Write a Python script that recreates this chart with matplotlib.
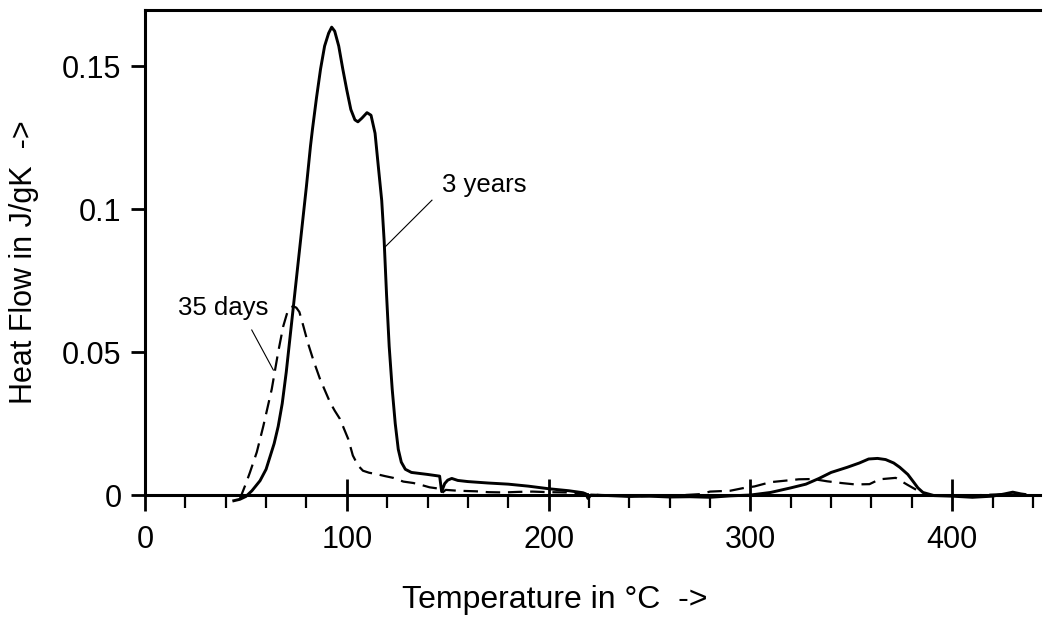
import matplotlib
matplotlib.use('Agg')
import matplotlib.pyplot as plt
from matplotlib.ticker import MultipleLocator, FixedLocator, FixedFormatter

plt.rcParams['font.family'] = ['Liberation Sans', 'DejaVu Sans']

# 3 years (solid)
temp_3y = [44, 47, 50, 53, 57, 60, 62, 64, 66, 68, 70, 72, 74, 76, 78, 80, 82, 83, 85, 87,
           89, 91, 92.5, 94, 96, 98, 100, 102, 104, 105.5, 107.5, 110, 112, 114, 115.6, 117.3,
           118.5, 119.7, 121, 122.5, 124, 125.5, 127, 129, 132, 140, 146, 147, 148.5, 150, 152,
           155, 160, 170, 180, 190, 200, 210, 217, 218.5, 219.5, 221, 230, 240, 250, 260, 270,
           280, 290, 300, 310, 320, 327.5, 334, 340, 348, 354, 358.6, 363, 367, 371, 374, 378,
           381, 383, 385.5, 391, 400, 410, 420, 426, 430, 434, 436]
heat_3y = [-0.002, -0.0015, -0.0005, 0.0015, 0.005, 0.009, 0.0135, 0.018, 0.024, 0.032, 0.043,
           0.056, 0.069, 0.082, 0.095, 0.108, 0.122, 0.128, 0.139, 0.149, 0.157, 0.1615, 0.1636,
           0.1622, 0.157, 0.149, 0.1416, 0.1348, 0.1312, 0.1305, 0.1318, 0.1337, 0.1328, 0.1265,
           0.115, 0.103, 0.089, 0.070, 0.052, 0.037, 0.025, 0.016, 0.0115, 0.009, 0.0079, 0.0072,
           0.0066, 0.0012, 0.0040, 0.0052, 0.0058, 0.0051, 0.0047, 0.0042, 0.0038, 0.0031, 0.0022,
           0.0015, 0.0008, 0.0004, -0.0012, 0.0, -0.0002, -0.0005, -0.0004, -0.0007, -0.0006,
           -0.0008, -0.0003, 0.0, 0.0009, 0.0025, 0.0038, 0.0058, 0.0079, 0.0097, 0.0112, 0.0126,
           0.0128, 0.0124, 0.0112, 0.0097, 0.0072, 0.0044, 0.0025, 0.0009, -0.0002, -0.0004,
           -0.0008, -0.0004, 0.0004, 0.0010, 0.0004, 0.0002]

# 35 days (dashed)
temp_35d = [47, 50, 52, 55.4, 58.6, 62.8, 66, 68.5, 70.5, 72, 73.5, 75, 76.5, 78.5, 80.8, 83.5,
            86.7, 89.5, 91.7, 94, 96.6, 100.7, 103, 105.6, 108, 111, 114.8, 119, 123, 128, 133,
            137, 141, 146, 147.3, 149, 155, 164, 170, 178, 185, 192, 200, 209, 215, 225, 240,
            260, 275, 280, 290, 297, 302, 310, 317, 324, 331, 338, 345, 352, 359, 364, 372, 378,
            383, 388, 395, 405, 415, 425, 435]
heat_35d = [-0.0014, 0.004, 0.0079, 0.015, 0.024, 0.037, 0.050, 0.059, 0.0638, 0.0656, 0.066,
            0.0655, 0.064, 0.059, 0.053, 0.047, 0.0406, 0.036, 0.0324, 0.0295, 0.0266, 0.0196,
            0.0138, 0.0103, 0.0085, 0.0078, 0.0073, 0.0066, 0.006, 0.0047, 0.0042, 0.0035, 0.0027,
            0.0022, 0.0008, 0.0018, 0.0015, 0.0013, 0.001, 0.0009, 0.0011, 0.0012, 0.001, 0.0009,
            0.0005, 0.0, -0.0004, -0.0003, 0.0003, 0.0012, 0.0015, 0.0025, 0.003, 0.0045, 0.005,
            0.0055, 0.0056, 0.0048, 0.0042, 0.0037, 0.0038, 0.0055, 0.006, 0.0035, 0.0015, 0.0,
            -0.0003, -0.0002, 0.0, 0.0003, 0.0]

x_ticks = [0, 100, 200, 300, 400]
x_ticklabels = ['0', '100', '200', '300', '400']
y_ticks = [0, 0.05, 0.1, 0.15]
y_ticklabels = ['0', '0.05', '0.1', '0.15']

W, H = 1046, 618
fig = plt.figure(figsize=(W / 100, H / 100), dpi=100)
ax = fig.add_axes([145 / W, 1 - 503.6 / H, 895 / W, 493.6 / H])

ax.plot(temp_3y, heat_3y, color='black', lw=2.1, solid_joinstyle='round')
ax.plot(temp_35d, heat_35d, color='black', lw=1.6, dashes=(6.5, 3.5))

ax.set_xlim(0, 443.5)
ax.set_ylim(-0.003, 0.1696)

ax.spines['right'].set_visible(False)
ax.spines['bottom'].set_position(('data', 0))
ax.spines['left'].set_bounds(0, 0.1696)
for s in ['left', 'bottom', 'top']:
    ax.spines[s].set_linewidth(2.2)

ax.xaxis.set_major_locator(FixedLocator(x_ticks))
ax.xaxis.set_major_formatter(FixedFormatter(x_ticklabels))
ax.xaxis.set_minor_locator(MultipleLocator(20))
ax.yaxis.set_major_locator(FixedLocator(y_ticks))
ax.yaxis.set_major_formatter(FixedFormatter(y_ticklabels))

ax.tick_params(axis='x', which='major', direction='inout', length=23, width=2,
               labelsize=22, pad=10)
ax.tick_params(axis='x', which='minor', direction='out', length=9, width=1.6)
ax.tick_params(axis='y', which='major', direction='out', length=10, width=2,
               labelsize=22, pad=7)

# annotations
ax.text(147.2, 0.1084, '3 years', fontsize=18.5, ha='left', va='center')
ax.plot([142.2, 118.9], [0.1031, 0.0867], color='black', lw=0.8)
ax.text(16.4, 0.0654, '35 days', fontsize=18.5, ha='left', va='center')
ax.plot([52.9, 63.6], [0.0577, 0.0437], color='black', lw=0.8)

fig.text(555 / W, 1 - 600 / H, 'Temperature in °C  ->', fontsize=23, ha='center', va='center')
fig.text(24 / W, 1 - 262 / H, 'Heat Flow in J/gK  ->', fontsize=22, ha='center', va='center',
         rotation=90)

fig.savefig('out.png', dpi=100)
